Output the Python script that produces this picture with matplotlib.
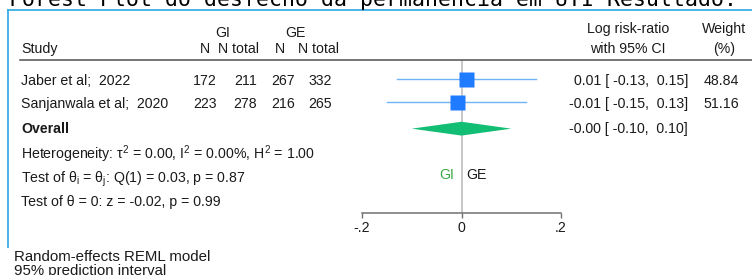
import matplotlib
matplotlib.use("Agg")
import matplotlib.pyplot as plt
from matplotlib.lines import Line2D

plt.rcParams['font.family'] = ['Liberation Sans', 'DejaVu Sans']
plt.rcParams['mathtext.fontset'] = 'custom'
plt.rcParams['mathtext.rm'] = 'Liberation Sans'
plt.rcParams['mathtext.it'] = 'Liberation Sans'

# data
studies = ["Jaber et al;  2022", "Sanjanwala et al;  2020"]
gi_n = [172, 223]
gi_total = [211, 278]
ge_n = [267, 216]
ge_total = [332, 265]
est = [0.01, -0.01]
ci_lo = [-0.13, -0.15]
ci_hi = [0.15, 0.13]
weight = [48.84, 51.16]
overall = (-0.00, -0.10, 0.10)
xticks = [-0.2, 0, 0.2]
xtick_labels = ["-.2", "0", ".2"]

W, H = 752, 275
fig = plt.figure(figsize=(W / 100, H / 100), dpi=100)
fs = 10.2


def txt(x, y, s, **kw):
    kw.setdefault('fontsize', fs)
    kw.setdefault('va', 'baseline')
    kw.setdefault('color', '#1a1a1a')
    fig.text(x / W, 1 - y / H, s, **kw)


def hline(x0, x1, y, **kw):
    fig.add_artist(Line2D([x0 / W, x1 / W], [1 - y / H, 1 - y / H], **kw))


def vline(x, y0, y1, **kw):
    fig.add_artist(Line2D([x / W, x / W], [1 - y0 / H, 1 - y1 / H], **kw))


# cut off title at the very top
fig.text(9 / W, 1 - 6 / H, "Forest Plot do desfecho da permanência em UTI Resultado: p",
         fontsize=15.5, family='DejaVu Sans Mono', va='baseline', color='black')

# frame
border = '#3aaee6'
hline(8, W, 10, color=border, lw=1.3)
vline(8, 10, 247, color=border, lw=1.3)

# header
txt(223, 37, "GI", ha='center')
txt(295, 37, "GE", ha='center')
txt(21, 53, "Study")
txt(205, 53, "N", ha='center')
txt(239, 53, "N total", ha='center')
txt(280, 53, "N", ha='center')
txt(319, 53, "N total", ha='center')
txt(628, 33, "Log risk-ratio", ha='center')
txt(628, 53, "with 95% CI", ha='center')
txt(724, 33, "Weight", ha='center')
txt(724, 53, "(%)", ha='center')
hline(20, W, 60, color='#505050', lw=1.1)

# study rows
base = [85, 108]
for i in range(len(studies)):
    y = base[i]
    txt(21, y, studies[i])
    txt(217, y, str(gi_n[i]), ha='right')
    txt(257, y, str(gi_total[i]), ha='right')
    txt(295, y, str(ge_n[i]), ha='right')
    txt(332, y, str(ge_total[i]), ha='right')
    txt(688, y, "%.2f [ %.2f,  %.2f]" % (est[i], ci_lo[i], ci_hi[i]), ha='right')
    txt(739, y, "%.2f" % weight[i], ha='right')

txt(21, 133, "Overall", fontweight='bold')
txt(688, 133, "-%.2f [ %.2f,  %.2f]" % (abs(overall[0]), overall[1], overall[2]), ha='right')
txt(21, 159, r"Heterogeneity: τ$^2$ = 0.00, I$^2$ = 0.00%, H$^2$ = 1.00")
txt(21, 183, r"Test of θ$_i$ = θ$_j$: Q(1) = 0.03, p = 0.87")
txt(21, 206, "Test of θ = 0: z = -0.02, p = 0.99")
txt(14, 261, "Random-effects REML model", fontsize=10.8)
txt(14, 275, "95% prediction interval", fontsize=10.8)

# forest panel
ax = fig.add_axes([362 / W, 1 - 213 / H, (561 - 362) / W, (213 - 60) / H])
ax.set_facecolor('none')
ax.set_xlim(-0.2, 0.2)
ax.set_ylim(5.83, -0.81)
for s in ['top', 'right', 'left']:
    ax.spines[s].set_visible(False)
ax.spines['bottom'].set_color('#707070')
ax.spines['bottom'].set_linewidth(1.1)
ax.set_yticks([])
ax.set_xticks(xticks)
ax.set_xticklabels(xtick_labels, fontsize=fs, color='#1a1a1a')
ax.tick_params(axis='x', length=3.5, width=1, color='#707070', pad=2)

ax.axvline(0, color='#bdbdbd', lw=1.2, zorder=1)

rows = [0, 1.0]
for i in range(len(studies)):
    ax.plot([ci_lo[i], ci_hi[i]], [rows[i], rows[i]], color='#6fb2f5', lw=1, zorder=2)
    ax.plot(est[i], rows[i], marker='s', markersize=10.8, color='#1f7bff', mec='none', zorder=3)

oy = 2.17
ax.fill([overall[1], overall[0], overall[2], overall[0]],
        [oy, oy - 0.3, oy, oy + 0.3], color='#12bd74', lw=0, zorder=3)

ax.text(-0.014, 4.2, "GI", color='#3aa845', fontsize=fs, ha='right', va='center')
ax.text(0.01, 4.2, "GE", color='#1a1a1a', fontsize=fs, ha='left', va='center')

fig.savefig("out.png", dpi=100)
